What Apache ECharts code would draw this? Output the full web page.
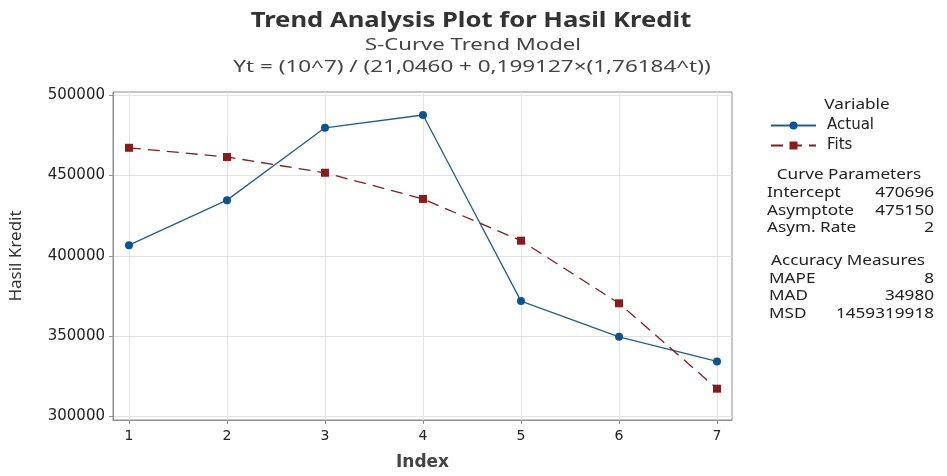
<!DOCTYPE html>
<html><head><meta charset="utf-8">
<script src="https://cdn.jsdelivr.net/npm/echarts@6/dist/echarts.min.js"></script>
<style>html,body{margin:0;padding:0;background:#fff}#c{width:947px;height:476px}</style>
</head><body><div id="c"></div>
<script>
const indexValues = [1, 2, 3, 4, 5, 6, 7];
const actualValues = [406600, 434700, 479800, 487800, 371700, 349400, 334100];
const fitsValues = [467360, 461600, 451770, 435450, 409400, 370350, 317070];
const yTicks = [300000, 350000, 400000, 450000, 500000];
const xTicks = [1, 2, 3, 4, 5, 6, 7];
const titleText = 'Trend Analysis Plot for Hasil Kredit';
const subtitleText = 'S-Curve Trend Model';
const formulaText = 'Yt = (10^7) / (21,0460 + 0,199127×(1,76184^t))';
const curveParams = [["Intercept", "470696"], ["Asymptote", "475150"], ["Asym. Rate", "2"]];
const accuracy = [["MAPE", "8"], ["MAD", "34980"], ["MSD", "1459319918"]];

const FONT = '"Noto Sans", "Open Sans", sans-serif';
const chart = echarts.init(document.getElementById('c'));
const graphics = [];
function txt(x, y, s, align, font, sx, fill) {
  graphics.push({type: 'text', x: x, y: y, scaleX: sx || 1.27, style: {
    text: s, x: 0, y: 0, fill: fill || '#222', font: font || ('13.5px ' + FONT),
    textAlign: align, textVerticalAlign: 'middle'
  }});
}
txt(471, 21, titleText, 'center', 'bold 21px ' + FONT, 1.22, '#333');
txt(473, 45, subtitleText, 'center', '17px ' + FONT, 1.3, '#444');
txt(472, 67, formulaText, 'center', '17px ' + FONT, 1.32, '#444');
txt(857, 105, 'Variable', 'center');
txt(849, 175, 'Curve Parameters', 'center');
curveParams.forEach((r, i) => { txt(767, 193 + i * 17.7, r[0], 'left'); txt(934, 193 + i * 17.7, r[1], 'right'); });
txt(848, 261, 'Accuracy Measures', 'center');
accuracy.forEach((r, i) => { txt(769, 279 + i * 17.5, r[0], 'left'); txt(934, 279 + i * 17.5, r[1], 'right'); });

chart.setOption({
  animation: false,
  legend: {
    orient: 'vertical', left: 765, top: 113, itemWidth: 45, itemHeight: 10, itemGap: 5,
    textStyle: {fontFamily: '"DejaVu Sans", sans-serif', fontSize: 15, color: '#222', padding: [0, 0, 0, 6]},
    data: ['Actual', 'Fits']
  },
  grid: {left: 113, right: 215, top: 92, bottom: 53, show: true, borderColor: '#8f8f8f', borderWidth: 1, containLabel: false},
  xAxis: {
    type: 'value', min: 0.837, max: 7.153,
    name: 'Index', nameLocation: 'middle', nameGap: 34,
    nameTextStyle: {fontFamily: '"DejaVu Sans", sans-serif', fontSize: 17, fontWeight: 'bold', color: '#444'},
    axisLine: {show: true, onZero: false, lineStyle: {color: '#8f8f8f'}},
    axisTick: {show: true, customValues: xTicks, length: 4, lineStyle: {color: '#8f8f8f'}},
    axisLabel: {customValues: xTicks, fontFamily: '"DejaVu Sans", sans-serif', fontSize: 14, color: '#222', margin: 9},
    splitLine: {show: true, lineStyle: {color: '#e3e3e3'}}
  },
  yAxis: {
    type: 'value', min: 297530, max: 502160,
    name: 'Hasil Kredit', nameLocation: 'middle', nameGap: 88, nameRotate: 90,
    nameTextStyle: {fontFamily: FONT, fontSize: 17, color: '#333'},
    axisLine: {show: true, onZero: false, lineStyle: {color: '#8f8f8f'}},
    axisTick: {show: true, customValues: yTicks, length: 4, lineStyle: {color: '#8f8f8f'}},
    axisLabel: {customValues: yTicks, formatter: v => String(v), fontFamily: '"DejaVu Sans", sans-serif', fontSize: 15, color: '#222', margin: 8},
    splitLine: {show: true, lineStyle: {color: '#e3e3e3'}}
  },
  graphic: graphics,
  series: [
    {name: 'Actual', type: 'line', data: indexValues.map((x, i) => [x, actualValues[i]]),
     symbol: 'circle', symbolSize: 8, color: '#0B5394',
     lineStyle: {width: 1.3, color: '#1f5f96'}, itemStyle: {color: '#0B5394'}},
    {name: 'Fits', type: 'line', data: indexValues.map((x, i) => [x, fitsValues[i]]),
     symbol: 'rect', symbolSize: 8, color: '#8B1A1A',
     lineStyle: {width: 1.3, color: '#8B1A1A', type: [12, 7]}, itemStyle: {color: '#8B1A1A'}}
  ]
});
</script></body></html>
